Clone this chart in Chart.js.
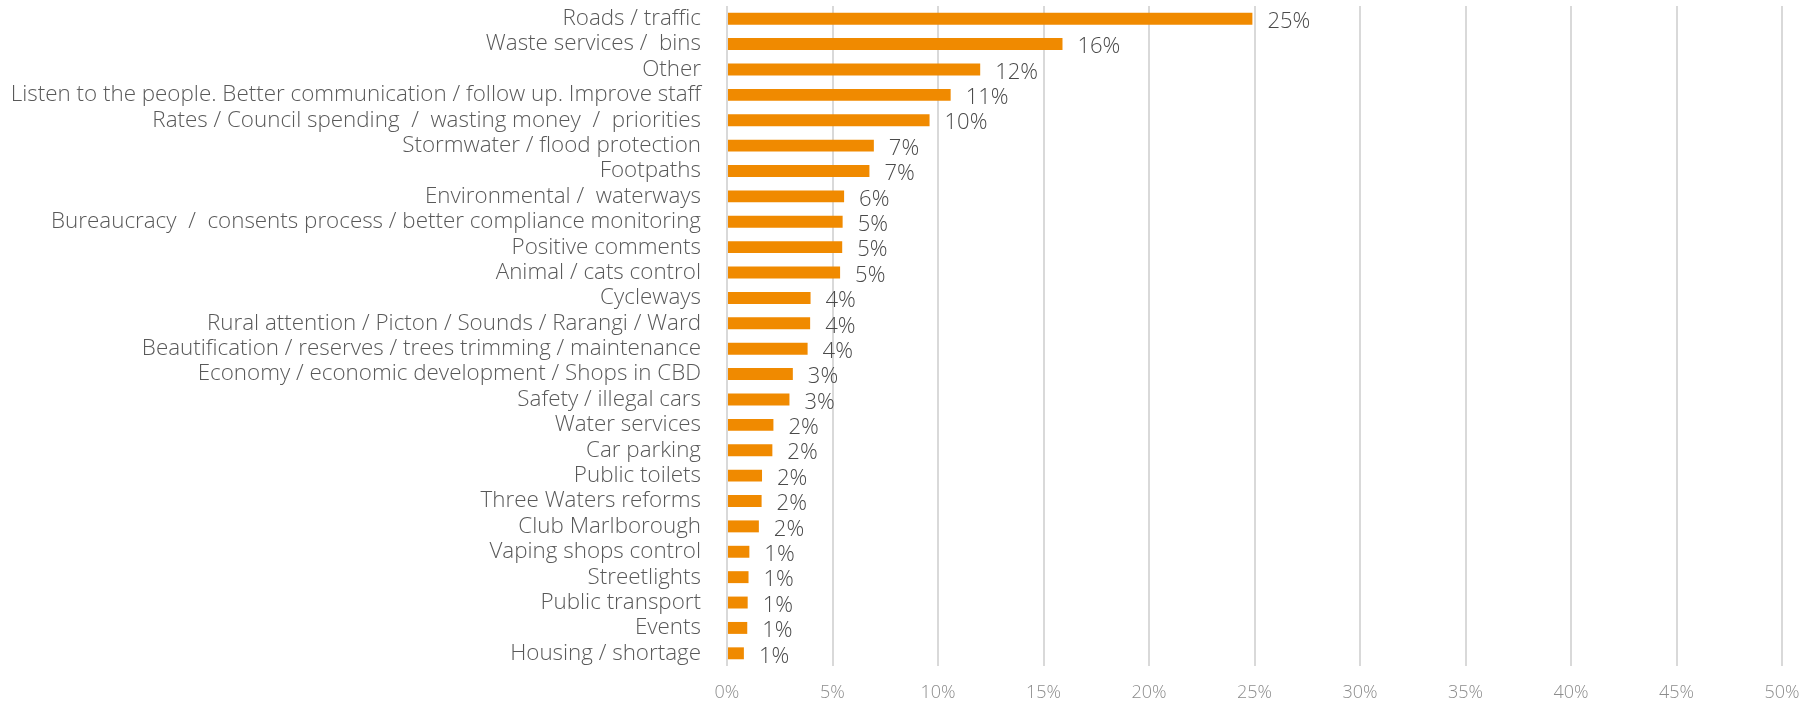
<!DOCTYPE html>
<html lang="en">
<head>
    <meta charset="UTF-8">
    <title>Top issues raised</title>
    <script src="https://cdn.jsdelivr.net/npm/chart.js@4.4.1/dist/chart.umd.min.js"></script>
    <style>
        * {
            margin: 0;
            padding: 0;
            box-sizing: border-box;
        }
        body {
            background-color: #ffffff;
        }
        .chart-wrap {
            width: 1809px;
            height: 703px;
        }
    </style>
</head>
<body>
    <div class="chart-wrap">
        <canvas id="issuesChart" width="1809" height="703"></canvas>
    </div>

    <script>
        // categories, top to bottom
        const categories = [
            'Roads / traffic',
            'Waste services /  bins',
            'Other',
            'Listen to the people. Better communication / follow up. Improve staff',
            'Rates / Council spending  /  wasting money  /  priorities',
            'Stormwater / flood protection',
            'Footpaths',
            'Environmental /  waterways',
            'Bureaucracy  /  consents process / better compliance monitoring',
            'Positive comments',
            'Animal / cats control',
            'Cycleways',
            'Rural attention / Picton / Sounds / Rarangi / Ward',
            'Beautification / reserves / trees trimming / maintenance',
            'Economy / economic development / Shops in CBD',
            'Safety / illegal cars',
            'Water services',
            'Car parking',
            'Public toilets',
            'Three Waters reforms',
            'Club Marlborough',
            'Vaping shops control',
            'Streetlights',
            'Public transport',
            'Events',
            'Housing / shortage'
        ];

        // share of respondents (%)
        const shares = [
            24.9, 15.9, 12.0, 10.6, 9.6, 6.96, 6.75, 5.55, 5.48, 5.46,
            5.36, 3.96, 3.94, 3.82, 3.12, 2.96, 2.2, 2.15, 1.66, 1.64,
            1.51, 1.06, 1.02, 0.98, 0.96, 0.8
        ];

        const xTicks = [0, 5, 10, 15, 20, 25, 30, 35, 40, 45, 50];

        const barColor = '#F08A00';
        const labelFont = "'Open Sans', 'Segoe UI', sans-serif";

        // writes the rounded % at the end of each bar
        const valueLabels = {
            id: 'valueLabels',
            afterDatasetsDraw(chart) {
                const ctx = chart.ctx;
                const meta = chart.getDatasetMeta(0);
                ctx.save();
                ctx.font = '300 22px ' + labelFont;
                ctx.fillStyle = '#4a4a4a';
                ctx.textAlign = 'left';
                ctx.textBaseline = 'middle';
                meta.data.forEach((bar, i) => {
                    const txt = Math.round(shares[i]) + '%';
                    ctx.fillText(txt, bar.x + 15, bar.y + 3);
                });
                ctx.restore();
            }
        };

        function drawChart() {
            const ctx = document.getElementById('issuesChart').getContext('2d');
            new Chart(ctx, {
                type: 'bar',
                data: {
                    labels: categories,
                    datasets: [{
                        data: shares,
                        backgroundColor: barColor,
                        borderWidth: 0,
                        categoryPercentage: 1,
                        barPercentage: 0.47
                    }]
                },
                options: {
                    indexAxis: 'y',
                    responsive: false,
                    animation: false,
                    layout: {
                        padding: { top: 6, right: 27, bottom: 0, left: 0 }
                    },
                    plugins: {
                        legend: { display: false },
                        tooltip: { enabled: false }
                    },
                    scales: {
                        x: {
                            min: 0,
                            max: 50,
                            afterBuildTicks(axis) {
                                axis.ticks = xTicks.map(v => ({ value: v }));
                            },
                            afterFit(axis) {
                                axis.height = 37;
                                axis.paddingLeft = 0;
                                axis.paddingRight = 0;
                            },
                            grid: {
                                color: '#D9D9D9',
                                lineWidth: 2,
                                drawTicks: false
                            },
                            border: { display: false },
                            ticks: {
                                padding: 16,
                                color: '#8C8C8C',
                                font: { family: labelFont, size: 18, weight: '300' },
                                callback: v => v + '%'
                            }
                        },
                        y: {
                            afterFit(axis) {
                                axis.width = 727;
                                axis.paddingTop = 0;
                                axis.paddingBottom = 0;
                            },
                            grid: { display: false, drawTicks: false },
                            border: { display: false },
                            ticks: {
                                padding: 26,
                                autoSkip: false,
                                color: '#595959',
                                font: { family: labelFont, size: 22.4, weight: '300' }
                            }
                        }
                    }
                },
                plugins: [valueLabels]
            });
        }

        window.onload = drawChart;
    </script>
</body>
</html>
